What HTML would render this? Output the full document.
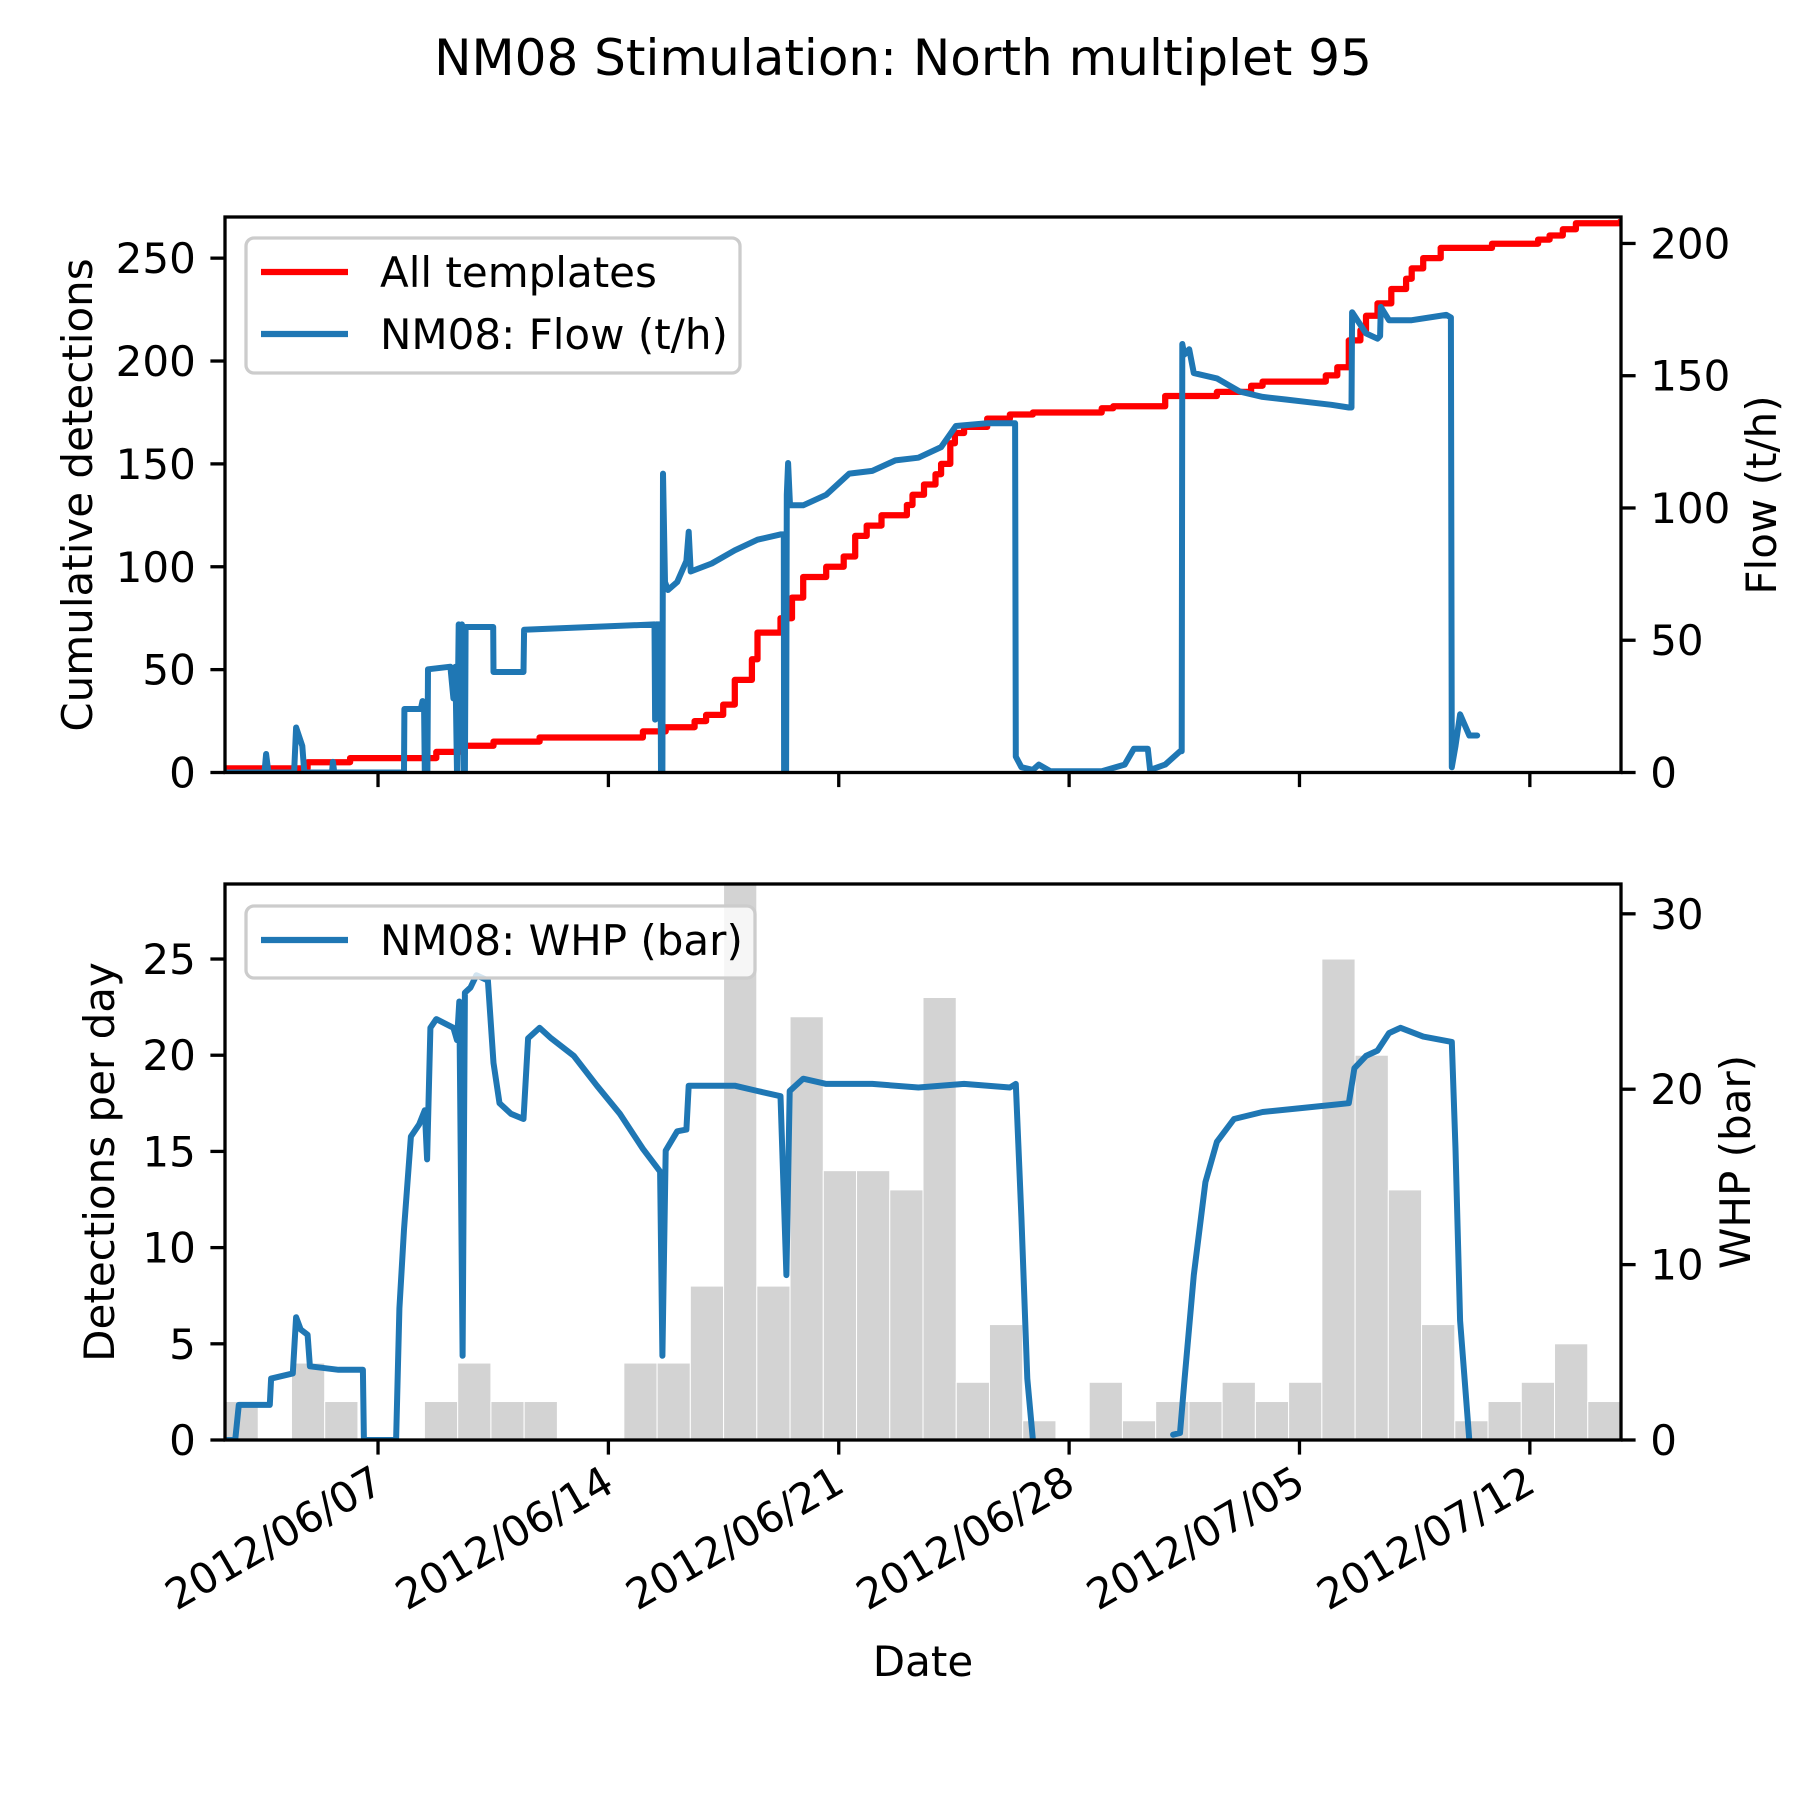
<!DOCTYPE html>
<html><head><meta charset="utf-8">
<style>
html,body{margin:0;padding:0;background:#fff;}
svg text{font-family:"DejaVu Sans","Liberation Sans",sans-serif;fill:#000;}
</style></head>
<body>
<svg id="chart" width="1800" height="1800" viewBox="0 0 1800 1800" xmlns="http://www.w3.org/2000/svg">
<rect width="1800" height="1800" fill="#fff"/>
<text x="903" y="75" font-size="50" text-anchor="middle">NM08 Stimulation: North multiplet 95</text>
<g id="g"></g>
</svg>
<script>
// ---- data (days relative to 2012/06/07 00:00) ----
const dateTickLabels = ["2012/06/07","2012/06/14","2012/06/21","2012/06/28","2012/07/05","2012/07/12"];
const dateTickDays = [0,7,14,21,28,35];
const cumTicks = [0,50,100,150,200,250];
const flowTicks = [0,50,100,150,200];
const perDayTicks = [0,5,10,15,20,25];
const whpTicks = [0,10,20,30];
const dailyCounts = [2,0,4,2,0,0,2,4,2,2,0,0,4,4,8,31,8,22,14,14,13,23,3,6,1,0,3,1,2,2,3,2,3,25,20,13,6,1,2,3,5,2];
const cumDays = [-4.65,-2.14,-0.85,1.77,2.47,3.51,4.91,8.05,8.74,9.62,9.97,10.49,10.84,11.36,11.53,12.23,12.58,12.92,13.62,14.15,14.5,14.85,15.3,16.07,16.24,16.59,16.94,17.11,17.39,17.53,17.81,18.51,19.2,19.9,21.99,22.34,23.92,25.49,26.53,26.88,28.8,29.15,29.5,29.85,30.02,30.37,30.79,31.24,31.41,31.76,32.29,33.85,35.25,35.6,36.0,36.4,37.77];
const cumCounts = [2,5,7,10,13,15,17,20,22,25,28,33,45,55,68,75,85,95,100,105,115,120,125,130,135,140,145,150,160,165,168,172,174,175,177,178,183,185,188,190,193,197,210,215,222,228,235,240,245,250,255,257,259,261,264,267,269];
const flowDays = [-4.65,-3.45,-3.4,-3.33,-2.55,-2.49,-2.3,-2.24,-1.4,-1.37,-1.33,0.79,0.8,1.3,1.35,1.4,1.42,1.5,1.52,2.2,2.29,2.35,2.4,2.45,2.5,2.55,2.6,2.64,2.66,3.5,3.51,4.42,4.44,8.4,8.42,8.45,8.58,8.6,8.64,8.66,8.72,8.81,9.09,9.37,9.44,9.5,10.14,10.84,11.53,12.23,12.33,12.34,12.40,12.42,12.46,12.52,12.92,13.62,14.32,15.02,15.72,16.42,17.11,17.56,18.51,19.2,19.36,19.38,19.55,19.9,20.08,20.43,21.99,22.69,22.97,23.39,23.46,23.92,24.37,24.42,24.44,24.5,24.65,24.79,25.49,26.19,26.88,27.58,28.28,28.97,29.5,29.58,29.6,30.02,30.37,30.45,30.47,30.72,31.41,32.46,32.6,32.63,32.74,32.88,33.16,33.4];
const flowValues = [0,0,7,0,0,17,10,0,0,4,0,0,24,24,27,24,0,0,39,40,28,40,0,56,10,56,0,0,55,55,38,38,54,56,20,56,56,0,0,113,72,69,72,80,91,76,79,84,88,90,90,0,0,105,117,101,101,105,113,114,118,119,123,131,132,132,132,6,2,1,3,0.5,0.5,3,9,9,1,3,8,8,162,158,160,151,149,144,142,141,140,139,138,138,174,166,164,165,176,171,171,173,172,2,10,22,14,14];
const whpDays = [-4.65,-4.34,-4.23,-3.29,-3.25,-2.59,-2.49,-2.35,-2.14,-2.07,-1.2,-0.46,-0.43,0.55,0.65,0.79,1.0,1.25,1.42,1.49,1.59,1.77,2.29,2.40,2.47,2.57,2.64,2.81,2.99,3.34,3.51,3.69,4.04,4.42,4.56,4.91,5.26,5.95,6.65,7.35,8.05,8.57,8.64,8.74,9.09,9.37,9.44,10.84,11.53,12.23,12.41,12.51,12.92,13.62,15.02,16.42,17.81,19.2,19.38,19.55,19.73,19.9,null,24.16,24.37,24.51,24.79,25.14,25.49,26.01,26.88,27.93,28.97,29.5,29.67,30.02,30.37,30.72,31.07,31.76,32.63,32.74,32.88,33.16];
const whpValues = [0,0,2,2,3.5,3.8,7,6.3,6,4.2,4,4,0,0,7.5,12,17.3,18,18.8,16,23.5,24,23.5,22.8,25,4.8,25.5,25.8,26.5,26.2,21.5,19.2,18.6,18.3,22.9,23.5,22.9,21.9,20.2,18.6,16.6,15.3,4.8,16.5,17.6,17.7,20.2,20.2,19.9,19.6,9.4,19.9,20.6,20.3,20.3,20.1,20.3,20.1,20.3,12.7,3.5,0,null,0.3,0.4,3.5,9.4,14.7,17,18.3,18.7,18.9,19.1,19.2,21.2,21.9,22.2,23.2,23.5,23,22.7,16.6,6.8,0];

// ---- layout ----
const L=225, R=1621, T1=217, B1=772.5, T2=884, B2=1440;
const dMin=-4.65, dMax=37.77;
const nBins=42;
const FS=42, TL=14.6, PAD=14.6, SW=3.3;
const NS="http://www.w3.org/2000/svg";
const g=document.getElementById('g');
function xS(d){return L+(d-dMin)/(dMax-dMin)*(R-L);}
function yCum(v){return B1-v/270*(B1-T1);}
function yFlow(v){return B1-v/210*(B1-T1);}
function yDay(v){return B2-v/28.9*(B2-T2);}
function yWhp(v){return B2-v/31.7*(B2-T2);}
function mk(tag,attrs,parent){const e=document.createElementNS(NS,tag);for(const k in attrs)e.setAttribute(k,attrs[k]);(parent||g).appendChild(e);return e;}

const defs=mk('defs',{});
const c1=mk('clipPath',{id:'c1'},defs);mk('rect',{x:L,y:T1,width:R-L,height:B1-T1},c1);
const c2=mk('clipPath',{id:'c2'},defs);mk('rect',{x:L,y:T2,width:R-L,height:B2-T2},c2);

// ---- bottom bars ----
const barG=mk('g',{'clip-path':'url(#c2)'});


const binDays=(dMax-dMin)/nBins;
dailyCounts.forEach((v,i)=>{
  if(v<=0)return;
  const x0=xS(dMin+i*binDays), x1=xS(dMin+(i+1)*binDays);
  const r=mk('rect',{x:x0,y:yDay(v),width:x1-x0,height:B2-yDay(v),fill:'#d3d3d3',stroke:'#fff','stroke-width':1},barG);
  
  
});

function linePath(days,vals,yf,step){
  let d='',pen=false,prevY=null;
  for(let i=0;i<days.length;i++){
    if(days[i]===null||vals[i]===null){pen=false;continue;}
    const x=xS(days[i]),y=yf(vals[i]);
    if(!pen){d+='M'+x.toFixed(1)+' '+y.toFixed(1);pen=true;}
    else{ if(step)d+='L'+x.toFixed(1)+' '+prevY.toFixed(1); d+='L'+x.toFixed(1)+' '+y.toFixed(1);}
    prevY=y;
  }
  return d;
}

const cumLine=mk('path',{d:linePath(cumDays,cumCounts,yCum,true),fill:'none',stroke:'#ff0000','stroke-width':6.25,'clip-path':'url(#c1)','stroke-linejoin':'round'});


const flowLine=mk('path',{d:linePath(flowDays,flowValues,yFlow,false),fill:'none',stroke:'#1f77b4','stroke-width':6,'clip-path':'url(#c1)','stroke-linejoin':'round','stroke-linecap':'round'});


const whpLine=mk('path',{d:linePath(whpDays,whpValues,yWhp,false),fill:'none',stroke:'#1f77b4','stroke-width':6,'clip-path':'url(#c2)','stroke-linejoin':'round','stroke-linecap':'round'});



// ---- axes ----
function frame(T,B,name){
  const r=mk('rect',{x:L,y:T,width:R-L,height:B-T,fill:'none',stroke:'#000','stroke-width':SW});
  
  
}
frame(T1,B1,'top-axes-frame');frame(T2,B2,'bottom-axes-frame');
function yTicks(ticks,yf,side,name){
  ticks.forEach(v=>{
    const y=yf(v);
    const x0=side==='left'?L-TL:R, x1=side==='left'?L:R+TL;
    mk('line',{x1:x0,x2:x1,y1:y,y2:y,stroke:'#000','stroke-width':SW});
    const t=mk('text',{x:side==='left'?L-TL-PAD:R+TL+PAD,y:y+15,'font-size':FS,'text-anchor':side==='left'?'end':'start'});
    t.textContent=v;
    
    
  });
}
yTicks(cumTicks,yCum,'left','cumulative-axis');
yTicks(flowTicks,yFlow,'right','flow-axis');
yTicks(perDayTicks,yDay,'left','per-day-axis');
yTicks(whpTicks,yWhp,'right','whp-axis');
dateTickDays.forEach((d,i)=>{
  const x=xS(d);
  mk('line',{x1:x,x2:x,y1:B1,y2:B1+TL,stroke:'#000','stroke-width':SW});
  mk('line',{x1:x,x2:x,y1:B2,y2:B2+TL,stroke:'#000','stroke-width':SW});
  const ax=x+8, ay=B2+50;
  const t=mk('text',{x:ax,y:ay,'font-size':FS,'text-anchor':'end',transform:'rotate(-30 '+ax+' '+ay+')'});
  t.textContent=dateTickLabels[i];
  
  
});
function label(txt,x,y,rot,name){
  const t=mk('text',{x:x,y:y,'font-size':FS,'text-anchor':'middle',transform:rot?'rotate('+rot+' '+x+' '+y+')':''});
  t.textContent=txt;
  
  
}
label('Cumulative detections',92,495,-90,'y-axis-title-cumulative');
label('Flow (t/h)',1776,495,-90,'y-axis-title-flow');
label('Detections per day',114,1162,-90,'y-axis-title-per-day');
label('WHP (bar)',1750,1162,-90,'y-axis-title-whp');
label('Date',923,1676,0,'x-axis-title');

// ---- legends ----
function legend(x,y,w,h,items,name){
  const lg=mk('g',{});
  
  
  mk('rect',{x:x,y:y,width:w,height:h,rx:8,fill:'#fff','fill-opacity':0.8,stroke:'#cccccc','stroke-width':3.3},lg);
  items.forEach((it,i)=>{
    const cy=y+34+i*62;
    mk('line',{x1:x+15,x2:x+102,y1:cy,y2:cy,stroke:it.c,'stroke-width':6.25},lg);
    const t=mk('text',{x:x+134,y:cy+15,'font-size':FS},lg);
    t.textContent=it.t;
    
    
  });
}
legend(246,238,494,135,[{t:'All templates',c:'#ff0000'},{t:'NM08: Flow (t/h)',c:'#1f77b4'}],'top-legend');
legend(246,906,509,72,[{t:'NM08: WHP (bar)',c:'#1f77b4'}],'bottom-legend');
</script>
</body></html>
